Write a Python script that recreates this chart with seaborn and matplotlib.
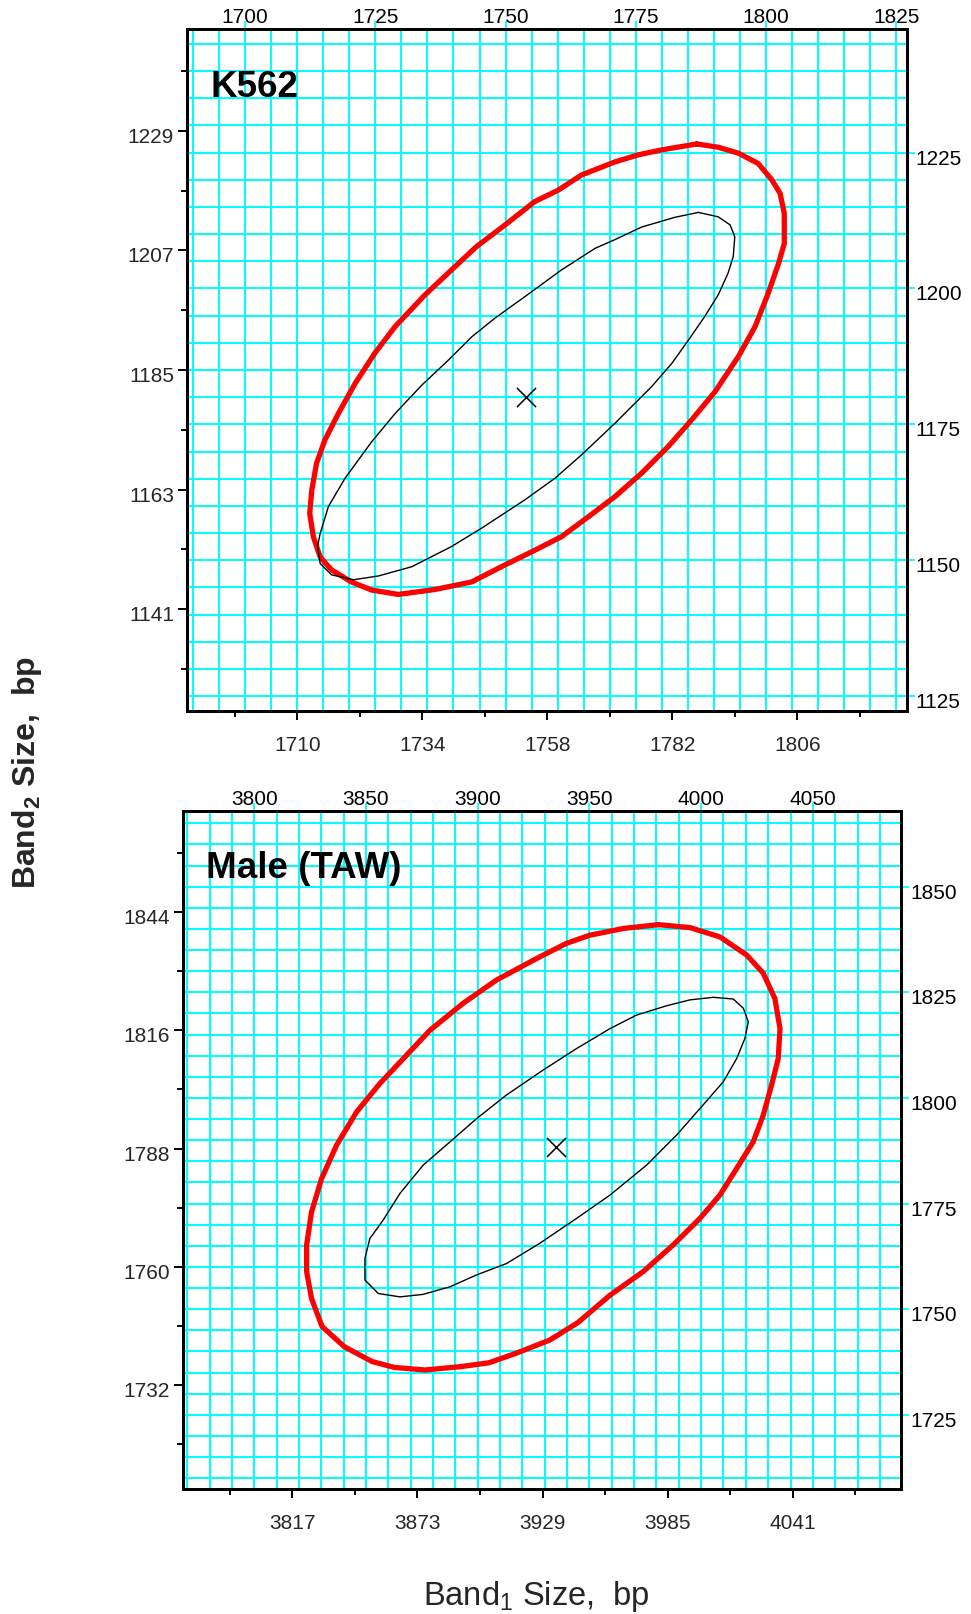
import numpy as np
import pandas as pd
import matplotlib
matplotlib.use("Agg")
import matplotlib.pyplot as plt
import matplotlib.transforms as mtransforms
import seaborn as sns

# ---------------- data ----------------
# Panel 1: K562
k562_label = "K562"
k562_center_x = [1754.0]
k562_center_y = [1180.0]
k562_outer_x = [1786.7, 1790.8, 1794.7, 1798.5, 1801.1, 1802.7, 1803.5, 1803.5, 1802.4, 1800.4,
                1797.9, 1794.7, 1790.2, 1785.7, 1781.2, 1776.1, 1771.0, 1765.9, 1760.7, 1754.3,
                1749.2, 1743.5, 1736.4, 1729.4, 1724.3, 1720.4, 1716.6, 1714.4, 1713.1, 1712.4,
                1712.8, 1713.7, 1715.3, 1717.9, 1721.1, 1724.9, 1728.8, 1734.5, 1739.6, 1744.4,
                1749.9, 1755.6, 1760.1, 1764.6, 1771.0, 1775.5, 1779.9, 1786.7]
k562_outer_y = [1226.6, 1226.0, 1224.9, 1223.0, 1220.0, 1217.5, 1213.8, 1208.3, 1204.6, 1199.1,
                1193.0, 1187.5, 1181.0, 1175.8, 1170.9, 1166.0, 1161.7, 1158.0, 1154.3, 1151.2,
                1148.8, 1146.0, 1144.6, 1143.7, 1144.5, 1146.0, 1148.2, 1150.6, 1154.3, 1158.6,
                1162.9, 1167.8, 1172.1, 1177.0, 1182.5, 1188.1, 1193.0, 1198.8, 1203.4, 1207.7,
                1211.7, 1216.0, 1218.1, 1220.9, 1223.3, 1224.6, 1225.5, 1226.6]
k562_inner_x = [1787.0, 1790.8, 1793.1, 1794.0, 1793.7, 1792.7, 1790.8, 1788.2, 1785.1, 1781.9,
                1778.0, 1771.0, 1764.6, 1759.5, 1753.7, 1745.4, 1739.6, 1732.0, 1725.6, 1720.8,
                1716.6, 1714.4, 1713.9, 1714.4, 1716.0, 1719.2, 1724.3, 1728.8, 1733.9, 1739.0,
                1743.5, 1747.9, 1755.0, 1760.7, 1767.2, 1771.0, 1776.1, 1782.5, 1787.0]
k562_inner_y = [1214.0, 1213.2, 1211.7, 1209.5, 1205.9, 1202.8, 1198.8, 1194.8, 1190.5, 1186.2,
                1181.9, 1175.2, 1169.4, 1165.1, 1161.1, 1155.9, 1152.5, 1148.8, 1147.1, 1146.4,
                1147.3, 1149.4, 1152.5, 1154.9, 1159.9, 1165.1, 1171.8, 1177.0, 1182.2, 1186.8,
                1191.1, 1194.5, 1199.4, 1203.4, 1207.4, 1209.0, 1211.3, 1213.1, 1214.0]
k562_bottom_ticks = [1710, 1734, 1758, 1782, 1806]
k562_bottom_minor = [1698, 1722, 1746, 1770, 1794, 1818]
k562_left_ticks = [1141, 1163, 1185, 1207, 1229]
k562_left_minor = [1130, 1152, 1174, 1196, 1218, 1240]
k562_top_ticks = [1700, 1725, 1750, 1775, 1800, 1825]
k562_right_ticks = [1125, 1150, 1175, 1200, 1225]
k562_xlim = [1688.9, 1827.0]
k562_ylim = [1122.3, 1247.7]
k562_grid_x = [1690, 1825, 5]
k562_grid_y = [1125, 1245, 5]

# Panel 2: Male (TAW)
taw_label = "Male (TAW)"
taw_center_x = [3935.0]
taw_center_y = [1788.4]
taw_outer_x = [3980.8, 3995.0, 4008.4, 4020.4, 4027.8, 4033.0, 4035.3, 4034.5, 4031.5, 4027.8,
               4023.3, 4015.9, 4008.4, 3999.5, 3987.5, 3974.1, 3959.2, 3944.8, 3932.3, 3917.4,
               3905.0, 3892.5, 3876.4, 3862.7, 3852.7, 3840.3, 3830.3, 3825.6, 3823.4, 3823.4,
               3825.6, 3830.1, 3836.8, 3845.8, 3856.2, 3866.7, 3878.6, 3893.5, 3908.4, 3926.4,
               3939.8, 3950.2, 3965.2, 3980.8]
taw_outer_y = [1841.0, 1840.3, 1838.1, 1833.8, 1829.5, 1823.5, 1816.4, 1809.3, 1803.0, 1795.9,
               1789.6, 1783.3, 1777.0, 1771.5, 1765.2, 1758.9, 1753.3, 1746.8, 1742.7, 1739.6,
               1737.3, 1736.4, 1735.6, 1736.2, 1737.6, 1741.1, 1745.9, 1752.5, 1758.9, 1765.2,
               1773.0, 1780.9, 1788.8, 1796.7, 1803.4, 1809.3, 1816.0, 1822.4, 1827.9, 1833.0,
               1836.6, 1838.5, 1840.1, 1841.0]
taw_inner_x = [4005.4, 4014.4, 4018.9, 4021.1, 4019.6, 4015.9, 4009.9, 3999.5, 3989.0, 3975.6,
               3959.2, 3944.3, 3927.8, 3912.9, 3899.5, 3887.6, 3875.6, 3865.2, 3855.5, 3849.5,
               3849.5, 3851.7, 3857.7, 3865.2, 3875.6, 3887.6, 3899.5, 3912.9, 3929.3, 3944.3,
               3959.2, 3971.1, 3984.5, 3995.0, 4005.4]
taw_inner_y = [1823.8, 1823.4, 1821.2, 1818.0, 1814.1, 1809.3, 1803.8, 1797.5, 1791.2, 1784.1,
               1777.0, 1771.5, 1765.6, 1760.8, 1758.1, 1755.3, 1753.5, 1752.9, 1753.7, 1756.9,
               1762.0, 1766.7, 1771.1, 1777.4, 1784.1, 1789.6, 1795.1, 1800.7, 1806.6, 1811.7,
               1816.4, 1819.6, 1821.8, 1823.2, 1823.8]
taw_bottom_ticks = [3817, 3873, 3929, 3985, 4041]
taw_bottom_minor = [3789, 3845, 3901, 3957, 4013, 4069]
taw_left_ticks = [1732, 1760, 1788, 1816, 1844]
taw_left_minor = [1718, 1746, 1774, 1802, 1830, 1858]
taw_top_ticks = [3800, 3850, 3900, 3950, 4000, 4050]
taw_right_ticks = [1725, 1750, 1775, 1800, 1825, 1850]
taw_xlim = [3768.2, 4089.5]
taw_ylim = [1707.5, 1867.9]
taw_grid_x = [3770, 4080, 10]
taw_grid_y = [1710, 1865, 5]

x_label = r"Band$_{\mathrm{1}}$ Size,  bp"
y_label = r"Band$_{\mathbf{2}}$ Size,  bp"

# ---------------- style ----------------
sns.set_style("ticks")
plt.rcParams['font.family'] = ['Liberation Sans', 'DejaVu Sans']
plt.rcParams['mathtext.fontset'] = 'custom'
plt.rcParams['mathtext.rm'] = 'Liberation Sans'
plt.rcParams['mathtext.bf'] = 'Liberation Sans:bold'
plt.rcParams['mathtext.it'] = 'Liberation Sans:italic'
plt.rcParams['mathtext.sf'] = 'Liberation Sans'

CYAN = '#00FFFF'
W, H = 971, 1614
fig = plt.figure(figsize=(W / 100, H / 100), dpi=100)
fig.patch.set_facecolor('white')
down = mtransforms.ScaledTranslation(0, -4.5 / 100, fig.dpi_scale_trans)


def panel(rect, label, cx, cy, ox, oy, ix, iy, bt, bm, lt, lm, tt, rt, xlim, ylim, gx, gy):
    ax = fig.add_axes(rect)
    axt = ax.twiny()
    axr = ax.twinx()
    ax.set_xlim(xlim)
    ax.set_ylim(ylim)
    axr.set_ylim(ylim)
    axt.set_xlim(xlim)

    # grid from the top / right scales
    axt.set_xticks(tt)
    axt.set_xticks(np.arange(gx[0], gx[1] + 0.1, gx[2]), minor=True)
    axr.set_yticks(rt)
    axr.set_yticks(np.arange(gy[0], gy[1] + 0.1, gy[2]), minor=True)
    axt.grid(True, which='both', axis='x', color=CYAN, lw=1.25, antialiased=False)
    axr.grid(True, which='both', axis='y', color=CYAN, lw=1.25, antialiased=False)
    axt.tick_params(axis='x', which='major', length=5.5, width=1.3, color=CYAN,
                    labelcolor='black', labelsize=15, pad=-4.2)
    axt.tick_params(axis='x', which='minor', length=0)
    axr.tick_params(axis='y', which='major', length=6, width=1.3, color=CYAN,
                    labelcolor='black', labelsize=15, pad=0.5)
    axr.tick_params(axis='y', which='minor', length=0)

    # main data axes on top of the grid
    ax.set_zorder(2)
    axt.set_zorder(1)
    axr.set_zorder(1)
    ax.patch.set_visible(False)
    ax.grid(False)

    sns.lineplot(x=ox, y=oy, sort=False, estimator=None, color='#FF0000', lw=3.8, ax=ax)
    sns.lineplot(x=ix, y=iy, sort=False, estimator=None, color='black', lw=1.0, ax=ax)
    sns.scatterplot(x=cx, y=cy, marker='x', s=190, color='black', linewidth=1.1, ax=ax)

    ax.set_xticks(bt)
    ax.set_xticks(bm, minor=True)
    ax.set_yticks(lt)
    ax.set_yticks(lm, minor=True)
    ax.tick_params(axis='x', which='major', length=6.5, width=1.4, color='black',
                   labelsize=15, pad=12)
    ax.tick_params(axis='x', which='minor', length=4.3, width=1.4, color='black')
    ax.tick_params(axis='y', which='major', length=6.5, width=1.4, color='black',
                   labelsize=15, pad=3)
    ax.tick_params(axis='y', which='minor', length=4.0, width=1.4, color='black')
    ax.set_xlabel('')
    ax.set_ylabel('')
    ax.set_xlim(xlim)
    ax.set_ylim(ylim)
    for a in (ax, axt, axr):
        for s in a.spines.values():
            s.set_color('black')
            s.set_linewidth(1.9)
    for lab in ax.get_yticklabels() + axr.get_yticklabels():
        lab.set_transform(lab.get_transform() + down)
    ax.text(0.032, 0.9007, label, transform=ax.transAxes, fontsize=26.5,
            fontweight='bold', ha='left', va='baseline', color='black')
    return ax


panel([187.3 / W, 1 - 710.7 / H, (906.7 - 187.3) / W, (710.7 - 29.3) / H],
      k562_label, k562_center_x, k562_center_y, k562_outer_x, k562_outer_y,
      k562_inner_x, k562_inner_y, k562_bottom_ticks, k562_bottom_minor,
      k562_left_ticks, k562_left_minor, k562_top_ticks, k562_right_ticks,
      k562_xlim, k562_ylim, k562_grid_x, k562_grid_y)

panel([183.3 / W, 1 - 1488.7 / H, (901.1 - 183.3) / W, (1488.7 - 811) / H],
      taw_label, taw_center_x, taw_center_y, taw_outer_x, taw_outer_y,
      taw_inner_x, taw_inner_y, taw_bottom_ticks, taw_bottom_minor,
      taw_left_ticks, taw_left_minor, taw_top_ticks, taw_right_ticks,
      taw_xlim, taw_ylim, taw_grid_x, taw_grid_y)

fig.text(536 / W, 1 - 1605 / H, x_label, fontsize=23.5, ha='center', va='baseline')
fig.text(26.5 / W, 1 - 773 / H, y_label, fontsize=23, fontweight='bold',
         rotation=90, ha='center', va='center')

fig.savefig('out.png', dpi=100, facecolor='white')
